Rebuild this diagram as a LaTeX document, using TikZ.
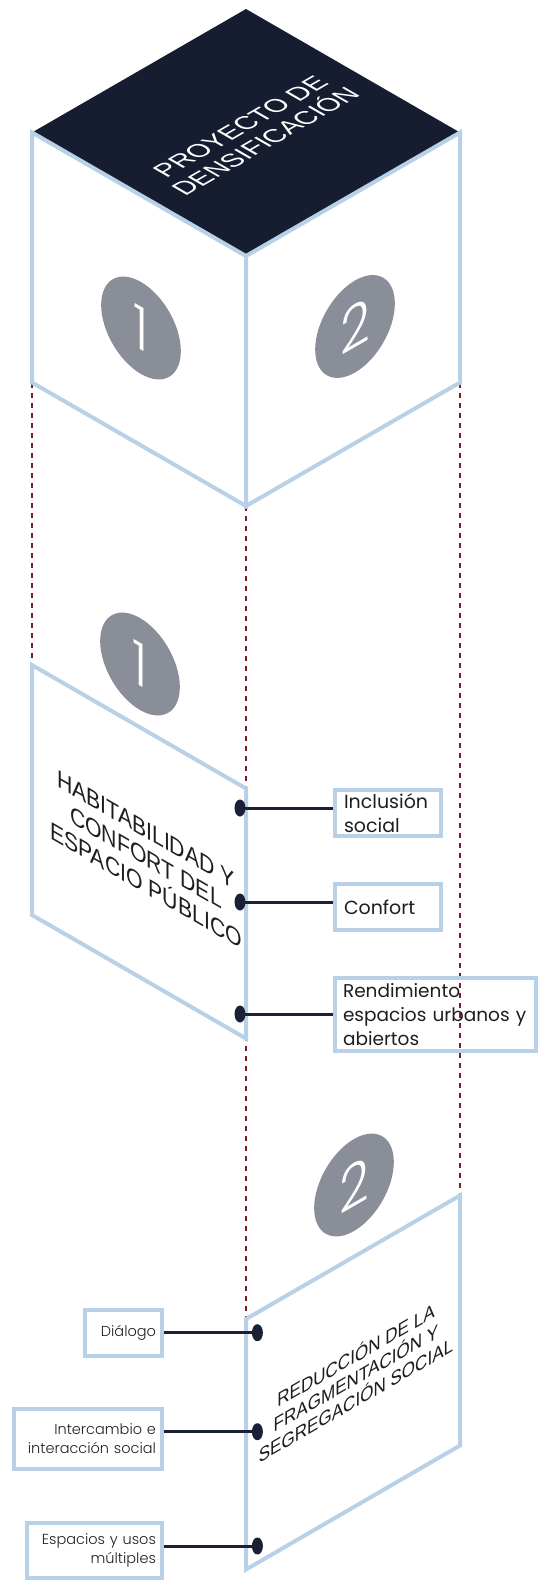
\documentclass[tikz,border=0pt]{standalone}
\usepackage{fontspec}
\setmainfont{Liberation Sans}
\newfontfamily\tagfont{Poppins}
\newfontfamily\thinfont{Poppins Light}
\usetikzlibrary{shapes.geometric}
\definecolor{cubenavy}{HTML}{161D31}
\definecolor{edgeblue}{HTML}{B9D1E7}
\definecolor{discgray}{HTML}{8A8E99}
\definecolor{linknavy}{HTML}{1A2137}
\definecolor{guidered}{HTML}{7A1E26}
\definecolor{inkdark}{HTML}{1E1E1E}

\begin{document}
\begin{tikzpicture}[x=1pt, y=-1pt]
  \tikzstyle{face}=[draw=edgeblue, line width=4pt, fill=white]
  \tikzstyle{guide}=[draw=guidered, line width=2.5pt, dash pattern=on 5pt off 5pt]
  \tikzstyle{leader}=[draw=linknavy, line width=3pt]
  \tikzstyle{pin}=[ellipse, fill=linknavy, inner sep=0pt, minimum width=11pt, minimum height=17pt]
  \tikzstyle{tagbox}=[draw=edgeblue, line width=4pt, font=\tagfont\fontsize{19}{24}\selectfont, text=inkdark, align=left, inner xsep=9pt, inner ysep=1pt]
  \tikzstyle{subbox}=[draw=edgeblue, line width=4pt, font=\thinfont\fontsize{14.5}{19}\selectfont, text=inkdark, align=right, inner xsep=6pt, inner ysep=1pt]
  \tikzstyle{disc}=[fill=discgray]
  \tikzstyle{digit}=[text=white, font=\thinfont\fontsize{60}{60}\selectfont, inner sep=0pt, transform shape]
  \tikzstyle{facetxt}=[text=inkdark, align=center, inner sep=0pt, transform shape]
  \useasboundingbox (0,0) rectangle (538,1580);

  % dotted guides between the cube and the two panels
  \draw[guide] (32,382.5) -- (32,665);
  \draw[guide] (246,506) -- (246,1319);
  \draw[guide] (460,382.5) -- (460,1195.5);

  % cube
  \fill[cubenavy] (246,9) -- (460,132.5) -- (246,256) -- (32,132.5) -- cycle;
  \draw[face] (32,132.5) -- (246,256) -- (246,506) -- (32,382.5) -- cycle;
  \draw[face] (246,256) -- (460,132.5) -- (460,382.5) -- (246,506) -- cycle;
  \begin{scope}[shift={(253,134)}, cm={0.866,0.5,-0.866,0.5,(0,0)}]
    \node[facetxt, text=white, font=\fontsize{26}{29}\selectfont] (title) at (0,0) {PROYECTO DE\\DENSIFICACIÓN};
  \end{scope}
  \begin{scope}[shift={(141,328)}, cm={0.866,-0.5,0,1,(0,0)}]
    \fill[disc] (0,0) circle (46pt);
    \node[digit] (cubeone) at (0,0) {1};
  \end{scope}
  \begin{scope}[shift={(355,326.5)}, cm={0.866,0.5,0,1,(0,0)}]
    \fill[disc] (0,0) circle (46pt);
    \node[digit] (cubetwo) at (0,0) {2};
  \end{scope}

  % panel 1 (left face)
  \draw[face] (32,665) -- (246,788.5) -- (246,1038.5) -- (32,915) -- cycle;
  \begin{scope}[shift={(140,664)}, cm={0.866,-0.5,0,1,(0,0)}]
    \fill[disc] (0,0) circle (46pt);
    \node[digit] (panone) at (0,0) {1};
  \end{scope}
  \begin{scope}[shift={(146,857.7)}, cm={0.866,-0.5,0,1,(0,0)}]
    \node[facetxt, font=\fontsize{24.5}{28}\selectfont] (habit) at (0,0) {HABITABILIDAD Y\\CONFORT DEL\\ESPACIO PÚBLICO};
  \end{scope}
  \node[tagbox, text width=87.5pt, minimum height=46pt] (incl) at (387.75,813) {Inclusión\\social};
  \node[tagbox, text width=87.5pt, minimum height=46pt] (conf) at (387.75,907) {Confort};
  \node[tagbox, font=\tagfont\fontsize{18.5}{24}\selectfont, inner xsep=8pt, text width=185pt, minimum height=73pt] (rend) at (435.5,1014.5) {Rendimiento\\espacios urbanos y\\abiertos};
  \node[pin] (pincl) at (240,808) {};
  \node[pin] (pconf) at (240,902) {};
  \node[pin] (prend) at (240,1014) {};
  \draw[leader] (pincl.center) -- (pincl -| incl.west);
  \draw[leader] (pconf.center) -- (pconf -| conf.west);
  \draw[leader] (prend.center) -- (prend -| rend.west);

  % panel 2 (right face)
  \draw[face] (246,1319) -- (460,1195.5) -- (460,1445.5) -- (246,1569.5) -- cycle;
  \begin{scope}[shift={(354,1185)}, cm={0.866,0.5,0,1,(0,0)}]
    \fill[disc] (0,0) circle (46pt);
    \node[digit] (pantwo) at (0,0) {2};
  \end{scope}
  \begin{scope}[shift={(356,1376.5)}, cm={0.866,0.5,0,1,(0,0)}]
    \node[facetxt, font=\fontsize{19.7}{22.4}\selectfont] (reduc) at (0,0) {REDUCCIÓN DE LA\\FRAGMENTACIÓN Y\\SEGREGACIÓN SOCIAL};
  \end{scope}
  \node[subbox, text width=65pt, minimum height=46pt] (dial) at (123.5,1333) {Diálogo};
  \node[subbox, text width=136pt, minimum height=60pt] (inter) at (88,1439) {Intercambio e\\interacción social};
  \node[subbox, text width=123.3pt, minimum height=55pt] (espa) at (94.3,1550.5) {Espacios y usos\\múltiples};
  \node[pin] (pdial) at (257.4,1332.7) {};
  \node[pin] (pinter) at (257.4,1431.7) {};
  \node[pin] (pespa) at (257.4,1546) {};
  \draw[leader] (dial.east |- pdial) -- (pdial.center);
  \draw[leader] (inter.east |- pinter) -- (pinter.center);
  \draw[leader] (espa.east |- pespa) -- (pespa.center);
\end{tikzpicture}
\end{document}
